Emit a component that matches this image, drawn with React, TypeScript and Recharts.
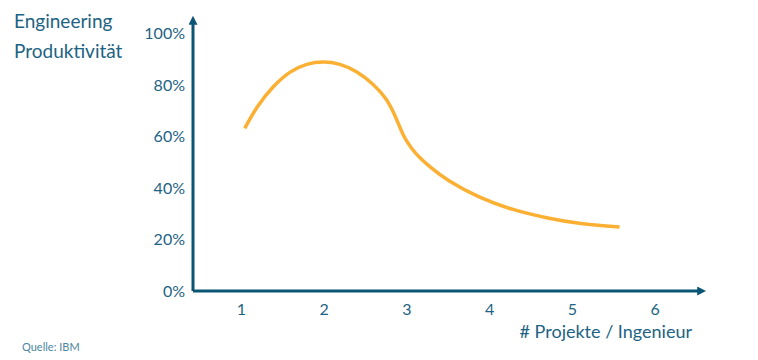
import { LineChart, Line, XAxis, YAxis, ReferenceLine } from "recharts";

// Projekte pro Ingenieur vs. Produktivität (%)
const projekte = [1.04, 1.18, 1.39, 1.59, 1.79, 1.99, 2.19, 2.39, 2.59, 2.76, 2.88, 2.95, 3.05, 3.15, 3.28, 3.48, 3.88, 4.28, 4.69, 5.09, 5.57];
const produktivitaet = [63.1, 71.4, 79.8, 85.4, 88.3, 89.1, 88.3, 85.4, 80.5, 74.7, 66.5, 60.5, 55.5, 51.8, 48.1, 43.0, 36.0, 31.4, 28.3, 26.0, 24.8];

const xTicks = [1, 2, 3, 4, 5, 6];
const yTicks = [0, 20, 40, 60, 80, 100];
// small white breaks in the x axis line
const axisBreaks = [0.85, 1.83, 2.74, 3.69, 4.54, 5.35];

const data = projekte.map((x, i) => ({ x, y: produktivitaet[i] }));

const AXIS = "#0b5574";
const TEXT = "#1d6383";
const CURVE = "#fbb034";
const FONT = "Lato, 'Open Sans', sans-serif";

export default function App() {
  return (
    <div style={{ position: "absolute", left: 0, top: 0, width: 758, height: 360, fontFamily: FONT }}>
      <LineChart
        width={758}
        height={360}
        data={data}
        margin={{ top: 23, right: 59, bottom: 39, left: 133 }}
      >
        <defs>
          <marker id="arrow" viewBox="0 0 10 10" refX="2" refY="5" markerWidth="3" markerHeight="3" orient="auto-start-reverse">
            <path d="M0,0 L10,5 L0,10 z" fill={AXIS} />
          </marker>
        </defs>
        <XAxis
          dataKey="x"
          type="number"
          domain={[0.415, 6.53]}
          ticks={xTicks}
          allowDataOverflow
          height={30}
          tickLine={false}
          tickMargin={7}
          axisLine={{ stroke: AXIS, strokeWidth: 3, markerEnd: "url(#arrow)" }}
          tick={{ fill: TEXT, fontSize: 16, fontFamily: FONT }}
        />
        <YAxis
          dataKey="y"
          type="number"
          domain={[0, 104]}
          ticks={yTicks}
          allowDataOverflow
          width={60}
          tickLine={false}
          tickFormatter={(v) => `${v}%`}
          axisLine={{ stroke: AXIS, strokeWidth: 3, markerStart: "url(#arrow)" }}
          tick={{ fill: TEXT, fontSize: 16, fontFamily: FONT }}
        />
        {axisBreaks.map((b) => (
          <ReferenceLine
            key={b}
            segment={[{ x: b, y: -1.2 }, { x: b, y: 1.2 }]}
            stroke="#ffffff"
            strokeWidth={1.5}
            ifOverflow="visible"
          />
        ))}
        <Line
          type="basis"
          dataKey="y"
          stroke={CURVE}
          strokeWidth={3.5}
          dot={false}
          isAnimationActive={false}
        />
      </LineChart>
      <div style={{ position: "absolute", left: 14, top: 6, color: TEXT, fontSize: 19, lineHeight: "30px" }}>
        Engineering
        <br />
        Produktivität
      </div>
      <div style={{ position: "absolute", right: 66, top: 320, color: TEXT, fontSize: 18 }}>
        # Projekte / Ingenieur
      </div>
      <div style={{ position: "absolute", left: 22, top: 340, color: "#4a86a0", fontSize: 11 }}>
        Quelle: IBM
      </div>
    </div>
  );
}
